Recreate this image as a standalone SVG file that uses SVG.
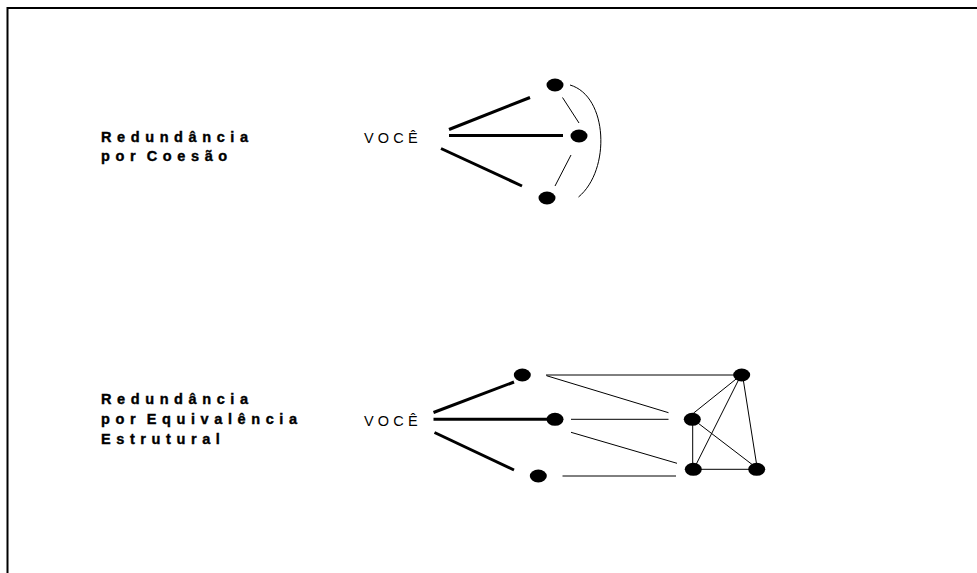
<svg xmlns="http://www.w3.org/2000/svg" width="977" height="573" viewBox="0 0 977 573">
  <style>
    .label { font-family: "Liberation Sans", Arial, sans-serif; font-size: 14.5px; font-weight: bold; letter-spacing: 5.6px; word-spacing: -4px; fill: #000; stroke: #000; stroke-width: 0.4px; }
    .you { font-family: "Liberation Sans", Arial, sans-serif; font-size: 14.5px; letter-spacing: 4.2px; fill: #000; }
    .node { fill: #000; }
    .thick { stroke: #000; stroke-width: 3; fill: none; }
    .thin { stroke: #000; stroke-width: 1; fill: none; }
  </style>
  <rect width="977" height="573" fill="#fff"/>
  <!-- page frame -->
  <path d="M7.5,573 V8 H977" fill="none" stroke="#000" stroke-width="2"/>

  <!-- section titles -->
  <g id="title-cohesion">
    <text class="label" x="101" y="141.5">Redundância</text>
    <text class="label" x="101" y="160.5">por Coesão</text>
  </g>
  <g id="title-equivalence">
    <text class="label" x="101" y="404">Redundância</text>
    <text class="label" x="101" y="424">por Equivalência</text>
    <text class="label" x="101" y="444">Estrutural</text>
  </g>

  <!-- connectors -->
  <g id="connectors">
    <!-- cohesion network -->
    <line class="thick" x1="449" y1="129.5" x2="530" y2="97.5"/>
    <line class="thick" x1="449" y1="135.5" x2="563" y2="135.5"/>
    <line class="thick" x1="441" y1="148.5" x2="522" y2="186"/>
    <line class="thin" x1="562.5" y1="97.5" x2="579" y2="123"/>
    <line class="thin" x1="571" y1="155" x2="555" y2="186"/>
    <path class="thin" d="M570,85 C608,96 611,170 578.5,197"/>

    <!-- structural equivalence network -->
    <line class="thick" x1="433.5" y1="412.5" x2="514" y2="382"/>
    <line class="thick" x1="433.5" y1="419.3" x2="550" y2="419.3"/>
    <line class="thick" x1="434.5" y1="432.5" x2="514" y2="470"/>
    <line class="thin" x1="546" y1="375" x2="737" y2="375"/>
    <line class="thin" x1="546.5" y1="375.7" x2="668.5" y2="412.7"/>
    <line class="thin" x1="571" y1="419.3" x2="668.5" y2="419.3"/>
    <line class="thin" x1="571" y1="432.3" x2="677" y2="463.3"/>
    <line class="thin" x1="562.5" y1="476" x2="676" y2="476"/>
    <line class="thin" x1="693.3" y1="413.3" x2="737" y2="378.3"/>
    <line class="thin" x1="692.7" y1="423" x2="692.7" y2="467"/>
    <line class="thin" x1="695" y1="466.7" x2="738.5" y2="380"/>
    <line class="thin" x1="698.3" y1="423.3" x2="755" y2="466.7"/>
    <line class="thin" x1="698" y1="469.3" x2="752" y2="469.3"/>
    <line class="thin" x1="743.3" y1="380" x2="756.7" y2="465"/>
  </g>

  <!-- cohesion nodes -->
  <g id="you-cohesion"><text class="you" x="364" y="142.5">VOCÊ</text></g>
  <g id="c1"><ellipse class="node" cx="555" cy="85" rx="8.5" ry="6.5"/></g>
  <g id="c2"><ellipse class="node" cx="579" cy="136" rx="8.5" ry="6.5"/></g>
  <g id="c3"><ellipse class="node" cx="547" cy="198" rx="8.5" ry="6.5"/></g>

  <!-- structural equivalence nodes -->
  <g id="you-equivalence"><text class="you" x="364" y="426">VOCÊ</text></g>
  <g id="e1"><ellipse class="node" cx="522.3" cy="375" rx="8.5" ry="6.5"/></g>
  <g id="e2"><ellipse class="node" cx="555" cy="419.3" rx="8.5" ry="6.5"/></g>
  <g id="e3"><ellipse class="node" cx="538.3" cy="476" rx="8.5" ry="6.5"/></g>
  <g id="e4"><ellipse class="node" cx="741.7" cy="375" rx="8.5" ry="6.5"/></g>
  <g id="e5"><ellipse class="node" cx="692.3" cy="419.3" rx="8.5" ry="6.5"/></g>
  <g id="e6"><ellipse class="node" cx="693.3" cy="469.3" rx="8.5" ry="6.5"/></g>
  <g id="e7"><ellipse class="node" cx="756.7" cy="469.3" rx="8.5" ry="6.5"/></g>
</svg>
